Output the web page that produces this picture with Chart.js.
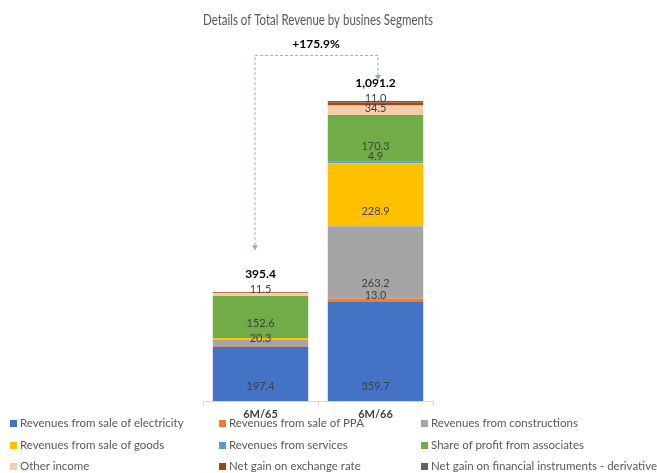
<!DOCTYPE html>
<html>
<head>
<meta charset="utf-8">
<script src="https://cdn.jsdelivr.net/npm/chart.js@4"></script>
<style>
  html, body { margin: 0; padding: 0; background: #fff; }
  #wrap { position: relative; width: 657px; height: 473px; }
  #legend { position: absolute; left: 0; top: 416px; width: 657px; font-family: Lato, "Open Sans", sans-serif; font-size: 11.5px; color: #595959; }
  .item { position: absolute; white-space: nowrap; line-height: 14px; }
  .sw { display: inline-block; width: 7px; height: 7px; margin-right: 3px; vertical-align: 0px; }
</style>
</head>
<body>
<div id="wrap">
  <canvas id="c" width="657" height="473"></canvas>
  <div id="legend"></div>
</div>
<script>
// ---- data ----
const categories = ["6M/65", "6M/66"];
const seriesNames = [
  "Revenues from sale of electricity",
  "Revenues from sale of PPA",
  "Revenues from constructions",
  "Revenues from sale of goods",
  "Revenues from services",
  "Share of profit from associates",
  "Other income",
  "Net gain on exchange rate",
  "Net gain on financial instruments - derivative"
];
const electricity   = [197.4, 359.7];
const salePPA       = [5.0, 13.0];
const constructions = [20.3, 263.2];
const goods         = [6.0, 228.9];
const services      = [0.2, 4.9];
const associates    = [152.6, 170.3];
const otherIncome   = [11.5, 34.5];
const exchangeRate  = [2.4, 11.0];
const derivative    = [0.0, 5.7];
const totals        = [395.4, 1091.2];
const growthLabel   = "+175.9%";
// which segment values carry a data label in the reference
const labelShown = [
  [true, true], [false, true], [true, true], [false, true], [false, true],
  [true, true], [true, true], [false, true], [false, false]
];
const seriesColors = ["#4472C4", "#ED7D31", "#A5A5A5", "#FFC000", "#5B9BD5", "#70AD47", "#F8CBAD", "#9E480E", "#636363"];

const seriesValues = [electricity, salePPA, constructions, goods, services, associates, otherIncome, exchangeRate, derivative];

const FONT = "Lato, 'Open Sans', sans-serif";

const segLabels = {
  id: "segLabels",
  afterDatasetsDraw(chart) {
    const ctx = chart.ctx;
    ctx.save();
    ctx.font = "11px " + FONT;
    ctx.fillStyle = "#404040";
    ctx.textAlign = "center";
    ctx.textBaseline = "middle";
    chart.data.datasets.forEach((ds, i) => {
      const meta = chart.getDatasetMeta(i);
      meta.data.forEach((el, j) => {
        if (!labelShown[i][j]) return;
        const h = el.base - el.y;
        const y = h > 15 ? el.base - 15 : el.base - 7;
        ctx.fillText(ds.data[j].toFixed(1), el.x, y);
      });
    });
    // totals
    const xs = chart.scales.x, ys = chart.scales.y;
    ctx.font = "bold 12px " + FONT;
    ctx.fillStyle = "#000";
    totals.forEach((t, j) => {
      const txt = t.toLocaleString("en-US", { minimumFractionDigits: 1, maximumFractionDigits: 1 });
      ctx.fillText(txt, xs.getPixelForValue(j), ys.getPixelForValue(t) - 18);
    });
    // growth connector
    const x0 = xs.getPixelForValue(0) - 6;
    const x1 = xs.getPixelForValue(1) + 2;
    const yTop = ys.getPixelForValue(totals[1]) - 46;
    const yL = ys.getPixelForValue(totals[0]) - 42;
    const yR = ys.getPixelForValue(totals[1]) - 21;
    ctx.strokeStyle = "#8FAADC";
    ctx.lineWidth = 1;
    ctx.setLineDash([3, 2]);
    ctx.beginPath();
    ctx.moveTo(x0 + 0.5, yL);
    ctx.lineTo(x0 + 0.5, yTop + 0.5);
    ctx.lineTo(x1 + 0.5, yTop + 0.5);
    ctx.lineTo(x1 + 0.5, yR);
    ctx.stroke();
    ctx.setLineDash([]);
    ctx.fillStyle = "#8FAADC";
    [[x0, yL], [x1, yR]].forEach(([ax, ay]) => {
      ctx.beginPath();
      ctx.moveTo(ax + 0.5 - 3, ay - 5);
      ctx.lineTo(ax + 0.5 + 3, ay - 5);
      ctx.lineTo(ax + 0.5, ay);
      ctx.closePath();
      ctx.fill();
    });
    ctx.font = "bold 12px " + FONT;
    ctx.fillStyle = "#000";
    ctx.fillText(growthLabel, (x0 + x1) / 2, yTop - 11);
    ctx.restore();
  }
};

new Chart(document.getElementById("c"), {
  type: "bar",
  data: {
    labels: categories,
    datasets: seriesNames.map((n, i) => ({
      label: n,
      data: seriesValues[i],
      backgroundColor: seriesColors[i],
      borderWidth: 0,
      categoryPercentage: 0.83,
      barPercentage: 1.0
    }))
  },
  options: {
    responsive: false,
    animation: false,
    layout: { padding: { left: 203, right: 224, top: 0, bottom: 52 } },
    plugins: {
      legend: { display: false },
      tooltip: { enabled: false },
      title: {
        display: true,
        text: "Details of Total Revenue by busines Segments",
        color: "#595959",
        font: { family: FONT, size: 16, weight: "normal", lineHeight: 1.2 },
        padding: { top: 10, bottom: 41.8 }
      }
    },
    scales: {
      x: {
        stacked: true,
        border: { display: true, color: "#D9D9D9" },
        grid: { display: true, drawOnChartArea: false, drawTicks: true, tickLength: 5, color: "#D9D9D9", offset: true },
        ticks: { color: "#404040", padding: 2, font: { family: FONT, size: 11, weight: "bold" } },
        afterFit(s) { s.height = 20; }
      },
      y: {
        stacked: true,
        display: false,
        min: 0,
        max: 1200
      }
    }
  },
  plugins: [segLabels]
});

// legend (3 columns)
const legend = document.getElementById("legend");
const colX = [10, 219, 421];
const rowY = [0, 22, 43];
seriesNames.forEach((n, i) => {
  const d = document.createElement("div");
  d.className = "item";
  d.style.left = colX[i % 3] + "px";
  d.style.top = rowY[Math.floor(i / 3)] + "px";
  const sw = document.createElement("span");
  sw.className = "sw";
  sw.style.background = seriesColors[i];
  d.appendChild(sw);
  d.appendChild(document.createTextNode(n));
  legend.appendChild(d);
});
</script>
</body>
</html>
